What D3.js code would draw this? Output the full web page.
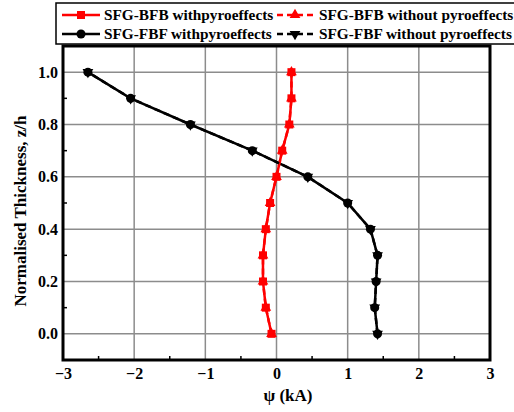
<!DOCTYPE html>
<html>
<head>
<meta charset="utf-8">
<script src="https://cdn.jsdelivr.net/npm/d3@7"></script>
<style>
  body { margin: 0; background: #fff; font-family: "Liberation Serif", serif; }
</style>
</head>
<body>
<div id="chart"></div>
<script>
const zh = [0, 0.1, 0.2, 0.3, 0.4, 0.5, 0.6, 0.7, 0.8, 0.9, 1.0];

// SFG-BFB (red)
const bfbWith    = [-0.07, -0.15, -0.19, -0.19, -0.15, -0.09, 0.0, 0.08, 0.18, 0.21, 0.21];
const bfbWithout = [-0.07, -0.15, -0.19, -0.19, -0.15, -0.09, 0.0, 0.08, 0.18, 0.21, 0.21];
// SFG-FBF (black)
const fbfWith    = [1.42, 1.38, 1.40, 1.42, 1.32, 1.0, 0.44, -0.34, -1.21, -2.05, -2.65];
const fbfWithout = [1.42, 1.38, 1.40, 1.42, 1.32, 1.0, 0.44, -0.34, -1.21, -2.05, -2.65];

const xTicks = [-3, -2, -1, 0, 1, 2, 3];
const yTicks = [0, 0.2, 0.4, 0.6, 0.8, 1.0];

const FONT = "'Liberation Serif', serif";
const W = 514, H = 412;
const margin = { top: 46, right: 24, bottom: 52, left: 63 },
      width = W - margin.left - margin.right,
      height = H - margin.top - margin.bottom;

const svgRoot = d3.select("#chart").append("svg")
    .attr("width", W).attr("height", H)
    .style("font-family", FONT);

const svg = svgRoot.append("g")
    .attr("transform", `translate(${margin.left},${margin.top})`);

const x = d3.scaleLinear().domain([-3, 3]).range([0, width]);
const y = d3.scaleLinear().domain([-0.1, 1.1]).range([height, 0]);

// grid
svg.append("g").selectAll("line").data(xTicks.slice(1, -1)).join("line")
    .attr("x1", d => x(d)).attr("x2", d => x(d))
    .attr("y1", 0).attr("y2", height)
    .attr("stroke", "#8c8c8c").attr("stroke-width", 1.5);
svg.append("g").selectAll("line").data(yTicks).join("line")
    .attr("x1", 0).attr("x2", width)
    .attr("y1", d => y(d)).attr("y2", d => y(d))
    .attr("stroke", "#8c8c8c").attr("stroke-width", 1.5);

// axes (labels only, ticks drawn inside)
const xAxis = svg.append("g")
    .attr("transform", `translate(0,${height})`)
    .call(d3.axisBottom(x).tickValues(xTicks).tickSize(0).tickPadding(8)
        .tickFormat(d3.format("d")));
const yAxis = svg.append("g")
    .call(d3.axisLeft(y).tickValues(yTicks).tickSize(0).tickPadding(5)
        .tickFormat(d3.format(".1f")));
[xAxis, yAxis].forEach(a => {
    a.attr("font-family", null).style("font-family", FONT);
    a.select(".domain").remove();
    a.selectAll("text").attr("font-size", 16).attr("font-weight", "bold")
        .attr("fill", "#000").style("font-family", FONT);
});

// minor ticks
const xMinor = d3.range(-2.5, 3, 1);
svg.append("g").selectAll("line").data(xMinor).join("line")
    .attr("x1", d => x(d)).attr("x2", d => x(d))
    .attr("y1", height).attr("y2", height - 4)
    .attr("stroke", "#000").attr("stroke-width", 1.5);
const yMinor = d3.range(0.1, 1.1, 0.2);
svg.append("g").selectAll("line").data(yMinor).join("line")
    .attr("x1", 0).attr("x2", 4)
    .attr("y1", d => y(d)).attr("y2", d => y(d))
    .attr("stroke", "#000").attr("stroke-width", 1.5);

// frame
svg.append("rect")
    .attr("width", width).attr("height", height)
    .attr("fill", "none").attr("stroke", "#000").attr("stroke-width", 3);

const series = [
    { vals: bfbWith,    color: "#ff0000", dash: null,  sym: d3.symbolSquare, size: 64 },
    { vals: fbfWith,    color: "#000000", dash: null,  sym: d3.symbolCircle, size: 64 },
    { vals: bfbWithout, color: "#ff0000", dash: "6,4", sym: d3.symbolTriangle, size: 50, rot: 0 },
    { vals: fbfWithout, color: "#000000", dash: "6,4", sym: d3.symbolTriangle, size: 50, rot: 180 }
];

const line = vals => d3.line()
    .x((d, i) => x(vals[i]))
    .y(d => y(d))(zh);

series.forEach(s => {
    svg.append("path")
        .attr("d", line(s.vals))
        .attr("fill", "none")
        .attr("stroke", s.color)
        .attr("stroke-width", 2.5)
        .attr("stroke-dasharray", s.dash);
});

series.forEach(s => {
    svg.append("g").selectAll("path").data(zh).join("path")
        .attr("d", d3.symbol().type(s.sym).size(s.size))
        .attr("transform", (d, i) => `translate(${x(s.vals[i])},${y(d)}) rotate(${s.rot || 0})`)
        .attr("fill", s.color);
});

// axis titles
svgRoot.append("text")
    .attr("x", 288).attr("y", 401)
    .attr("text-anchor", "middle")
    .attr("font-size", 17).attr("font-weight", "bold")
    .style("font-family", FONT)
    .text("\u03C8 (kA)");

svgRoot.append("text")
    .attr("transform", `translate(26,211) rotate(-90)`)
    .attr("text-anchor", "middle")
    .attr("font-size", 17).attr("font-weight", "bold")
    .style("font-family", FONT)
    .text("Normalised Thickness, z/h");

// legend
const legend = svgRoot.append("g");
legend.append("rect")
    .attr("x", 56).attr("y", 3).attr("width", 470).attr("height", 41)
    .attr("fill", "#fff").attr("stroke", "#000").attr("stroke-width", 1.5);

const legItems = [
    { s: series[0], text: "SFG-BFB withpyroeffects",     lx: 62,  ly: 15 },
    { s: series[2], text: "SFG-BFB without pyroeffects", lx: 277, ly: 15 },
    { s: series[1], text: "SFG-FBF withpyroeffects",     lx: 62,  ly: 34 },
    { s: series[3], text: "SFG-FBF without pyroeffects", lx: 277, ly: 34 }
];
legItems.forEach(d => {
    const len = d.s.dash ? 36 : 38;
    legend.append("line")
        .attr("x1", d.lx).attr("x2", d.lx + len)
        .attr("y1", d.ly).attr("y2", d.ly)
        .attr("stroke", d.s.color).attr("stroke-width", 2.5)
        .attr("stroke-dasharray", d.s.dash);
    legend.append("path")
        .attr("d", d3.symbol().type(d.s.sym).size(d.s.size))
        .attr("transform", `translate(${d.lx + len / 2},${d.ly}) rotate(${d.s.rot || 0})`)
        .attr("fill", d.s.color);
    legend.append("text")
        .attr("x", d.lx + len + (d.s.dash ? 6 : 4)).attr("y", d.ly + 5)
        .attr("font-size", 15.3).attr("font-weight", "bold")
        .style("font-family", FONT)
        .text(d.text);
});
</script>
</body>
</html>
